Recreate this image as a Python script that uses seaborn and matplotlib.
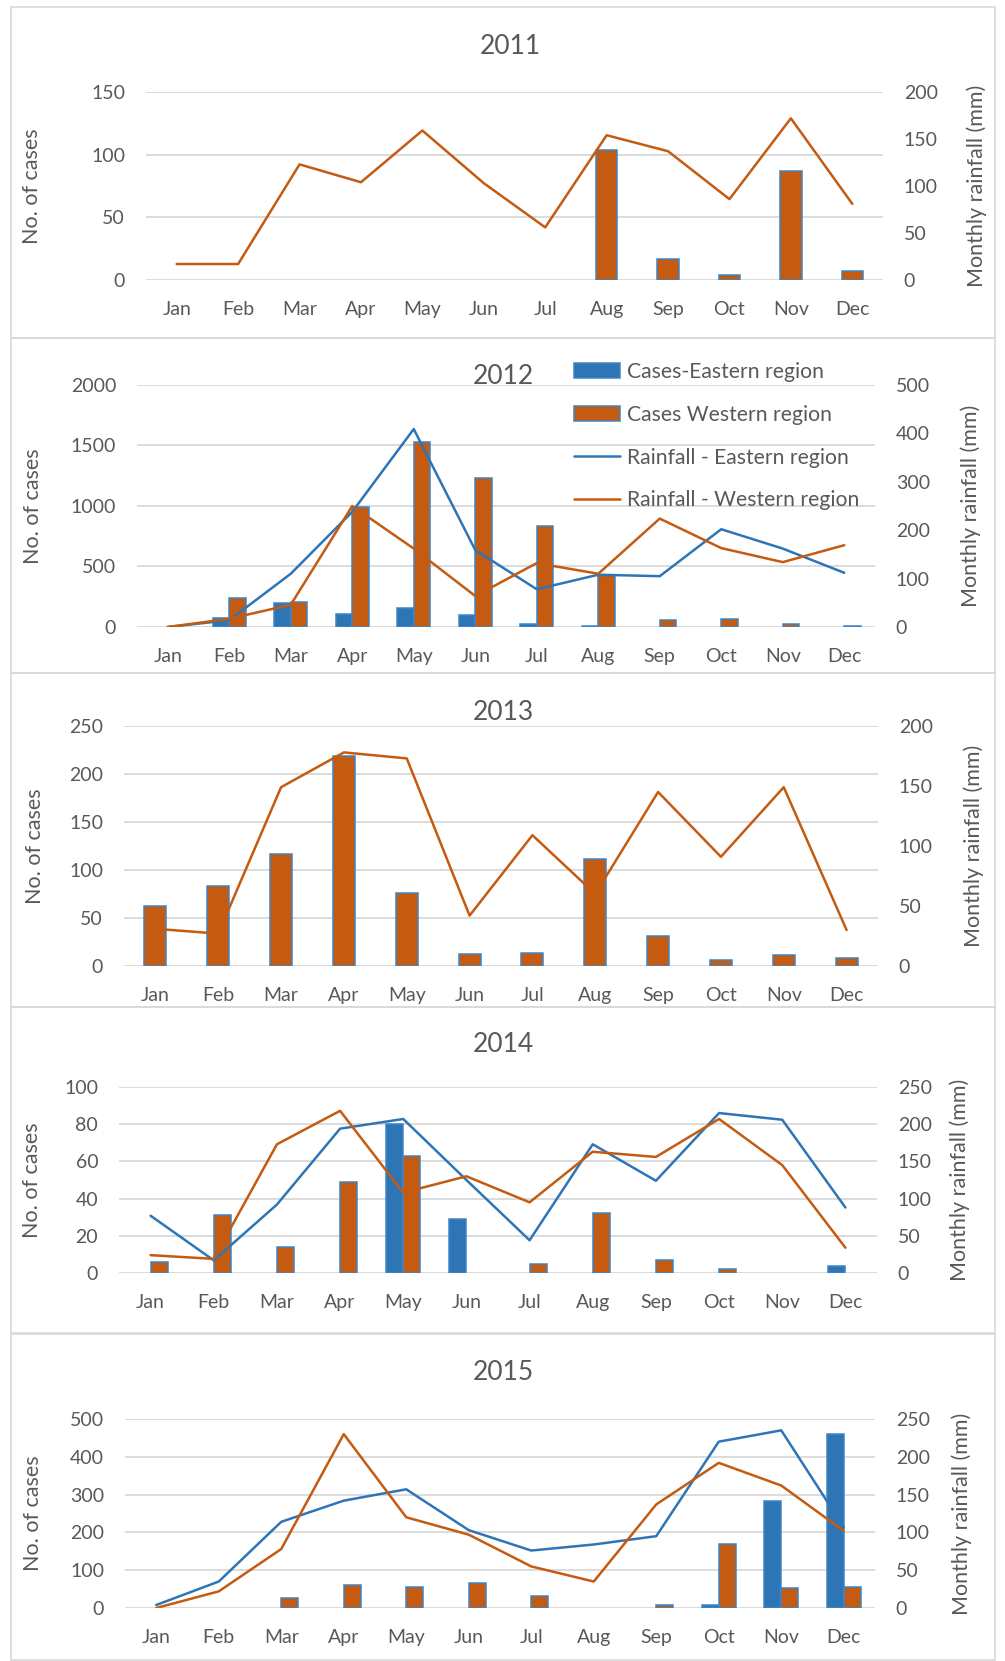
import numpy as np
import pandas as pd
import matplotlib
matplotlib.use("Agg")
import matplotlib.pyplot as plt
import seaborn as sns
from matplotlib.patches import Rectangle, Patch
from matplotlib.lines import Line2D

sns.set_style("white")
plt.rcParams["font.family"] = ["Lato", "DejaVu Sans"]

nan = np.nan
months = ["Jan", "Feb", "Mar", "Apr", "May", "Jun", "Jul", "Aug", "Sep", "Oct", "Nov", "Dec"]
regions = ["Cases-Eastern region", "Cases Western region"]
line_labels = ["Rainfall - Eastern region", "Rainfall - Western region"]

# ---- 2011 ----
cases_w_2011 = [nan, nan, nan, nan, nan, nan, nan, 104, 17, 4, 87, 7]
rain_w_2011 = [17, 17, 123, 104, 159, 103, 56, 154, 137, 86, 172, 81]
# ---- 2012 ----
cases_e_2012 = [nan, 75, 200, 108, 157, 102, 28, 5, nan, nan, nan, nan]
cases_w_2012 = [nan, 240, 203, 993, 1525, 1228, 836, 433, 58, 62, 25, 5]
rain_e_2012 = [0, 14, 110, 238, 409, 159, 78, 108, 105, 202, 162, 112]
rain_w_2012 = [0, 17, 46, 250, 162, 64, 132, 110, 224, 163, 134, 169]
# ---- 2013 ----
cases_w_2013 = [63, 83, 117, 219, 76, 13, 14, 111, 31, 6, 11, 8]
rain_w_2013 = [31, 27, 149, 178, 173, 42, 109, 60, 145, 91, 149, 30]
# ---- 2014 ----
cases_e_2014 = [nan, nan, nan, nan, 80, 29, nan, nan, nan, nan, nan, 4]
cases_w_2014 = [6, 31, 14, 49, 63, nan, 5, 32, 7, 2, nan, nan]
rain_e_2014 = [77, 17, 92, 194, 207, 125, 44, 173, 124, 215, 206, 88]
rain_w_2014 = [24, 19, 173, 218, 108, 130, 95, 163, 156, 207, 145, 34]
# ---- 2015 ----
cases_e_2015 = [nan, nan, nan, nan, nan, nan, nan, nan, nan, 8, 284, 461]
cases_w_2015 = [nan, nan, 26, 62, 55, 66, 33, nan, 9, 168, 52, 55]
rain_e_2015 = [4, 35, 114, 142, 157, 103, 76, 84, 95, 220, 235, 107]
rain_w_2015 = [0, 22, 78, 230, 120, 97, 55, 35, 137, 192, 162, 102]

case_ticks = {2011: [0, 50, 100, 150], 2012: [0, 500, 1000, 1500, 2000],
              2013: [0, 50, 100, 150, 200, 250], 2014: [0, 20, 40, 60, 80, 100],
              2015: [0, 100, 200, 300, 400, 500]}
rain_ticks = {2011: [0, 50, 100, 150, 200], 2012: [0, 100, 200, 300, 400, 500],
              2013: [0, 50, 100, 150, 200], 2014: [0, 50, 100, 150, 200, 250],
              2015: [0, 50, 100, 150, 200, 250]}

BLUE = "#2E75B6"
ORANGE = "#C55A11"
EDGE = "#3D85C8"
TXT = "#595959"
GRID = "#D9D9D9"

W, H = 1005, 1661
fig = plt.figure(figsize=(W / 100, H / 100), dpi=100)
fig.patch.set_facecolor("white")

# layout (pixels): axes l, r, t, b ; title x,y ; left label x ; right label x ; panel box top,bottom
layout = {
    2011: dict(ax=(146, 883, 92, 280), title=(510, 47), ll=32, rl=977, box=(7, 338)),
    2012: dict(ax=(137, 875, 385, 627), title=(503, 377), ll=33, rl=971, box=(338, 673)),
    2013: dict(ax=(124, 878, 726, 966), title=(503, 712), ll=35, rl=974, box=(673, 1007)),
    2014: dict(ax=(119, 877, 1087, 1273), title=(503, 1045), ll=32, rl=960, box=(1007, 1333)),
    2015: dict(ax=(125, 875, 1419, 1608), title=(503, 1372), ll=33, rl=962, box=(1334, 1660)),
}

data = {
    2011: (None, cases_w_2011, None, rain_w_2011),
    2012: (cases_e_2012, cases_w_2012, rain_e_2012, rain_w_2012),
    2013: (None, cases_w_2013, None, rain_w_2013),
    2014: (cases_e_2014, cases_w_2014, rain_e_2014, rain_w_2014),
    2015: (cases_e_2015, cases_w_2015, rain_e_2015, rain_w_2015),
}

for year, (ce, cw, re_, rw) in data.items():
    L = layout[year]
    l, r, t, b = L["ax"]
    # panel border
    bt, bb = L["box"]
    fig.patches.append(Rectangle((11 / W, 1 - bb / H), (995 - 11) / W, (bb - bt) / H,
                                 transform=fig.transFigure, fill=False,
                                 edgecolor=GRID, linewidth=1.2))
    ax = fig.add_axes([l / W, 1 - b / H, (r - l) / W, (b - t) / H])
    if ce is None:
        df = pd.DataFrame({"Month": months, "Cases": cw})
        sns.barplot(data=df, x="Month", y="Cases", order=months, color=ORANGE,
                    saturation=1, width=0.35, errorbar=None, edgecolor=EDGE,
                    linewidth=1.1, ax=ax)
    else:
        df = pd.DataFrame({"Month": months * 2,
                           "Cases": list(ce) + list(cw),
                           "Region": [regions[0]] * 12 + [regions[1]] * 12})
        sns.barplot(data=df, x="Month", y="Cases", hue="Region", order=months,
                    hue_order=regions, palette={regions[0]: BLUE, regions[1]: ORANGE},
                    saturation=1, width=0.54, gap=0, dodge=True, errorbar=None,
                    edgecolor=EDGE, linewidth=1.1, legend=False, ax=ax)
    ax2 = ax.twinx()
    xpos = np.arange(len(months))
    if re_ is not None:
        sns.lineplot(x=xpos, y=re_, color=BLUE, linewidth=1.8, ax=ax2)
    sns.lineplot(x=xpos, y=rw, color=ORANGE, linewidth=1.8, ax=ax2)

    ax.set_xlim(-0.5, len(months) - 0.5)
    ax.set_ylim(0, case_ticks[year][-1])
    ax.set_yticks(case_ticks[year])
    ax2.set_ylim(0, rain_ticks[year][-1])
    ax2.set_yticks(rain_ticks[year])
    ax.set_xticks(xpos)
    ax.set_xticklabels(months)
    ax.grid(axis="y", color=GRID, linewidth=1.3)
    ax.grid(axis="x", visible=False)
    ax.set_axisbelow(True)
    for a in (ax, ax2):
        for s in a.spines.values():
            s.set_visible(False)
    ax.tick_params(axis="x", length=0, pad=15, labelsize=14, labelcolor=TXT)
    ax.tick_params(axis="y", length=0, pad=15, labelsize=14, labelcolor=TXT)
    ax2.tick_params(axis="y", length=0, pad=15, labelsize=14, labelcolor=TXT)
    ax.set_xlabel("")
    ax.set_ylabel("No. of cases", fontsize=15.5, color=TXT, va="center")
    ax.yaxis.set_label_coords((L["ll"] - l) / (r - l), 0.5)
    ax2.set_ylabel("Monthly rainfall (mm)", fontsize=15.5, color=TXT, rotation=90, va="center")
    ax2.yaxis.set_label_coords((L["rl"] - l) / (r - l), 0.5)
    tx, ty = L["title"]
    ax.set_title(str(year), x=(tx - l) / (r - l), y=1 + (t - ty) / (b - t),
                 va="center", fontsize=19, color=TXT, pad=0)

    if year == 2012:
        handles = [Patch(facecolor=BLUE, edgecolor=EDGE, linewidth=1.1),
                   Patch(facecolor=ORANGE, edgecolor=EDGE, linewidth=1.1),
                   Line2D([], [], color=BLUE, linewidth=1.8),
                   Line2D([], [], color=ORANGE, linewidth=1.8)]
        leg = ax2.legend(handles, regions + line_labels, loc="upper left",
                         bbox_to_anchor=(574 / W, 1 - 362 / H),
                         bbox_transform=fig.transFigure, frameon=False,
                         fontsize=15.2, labelcolor=TXT, borderpad=0,
                         borderaxespad=0, handlelength=2.2, handletextpad=0.3,
                         labelspacing=1.08)

fig.savefig("out.png", dpi=100, facecolor="white")
